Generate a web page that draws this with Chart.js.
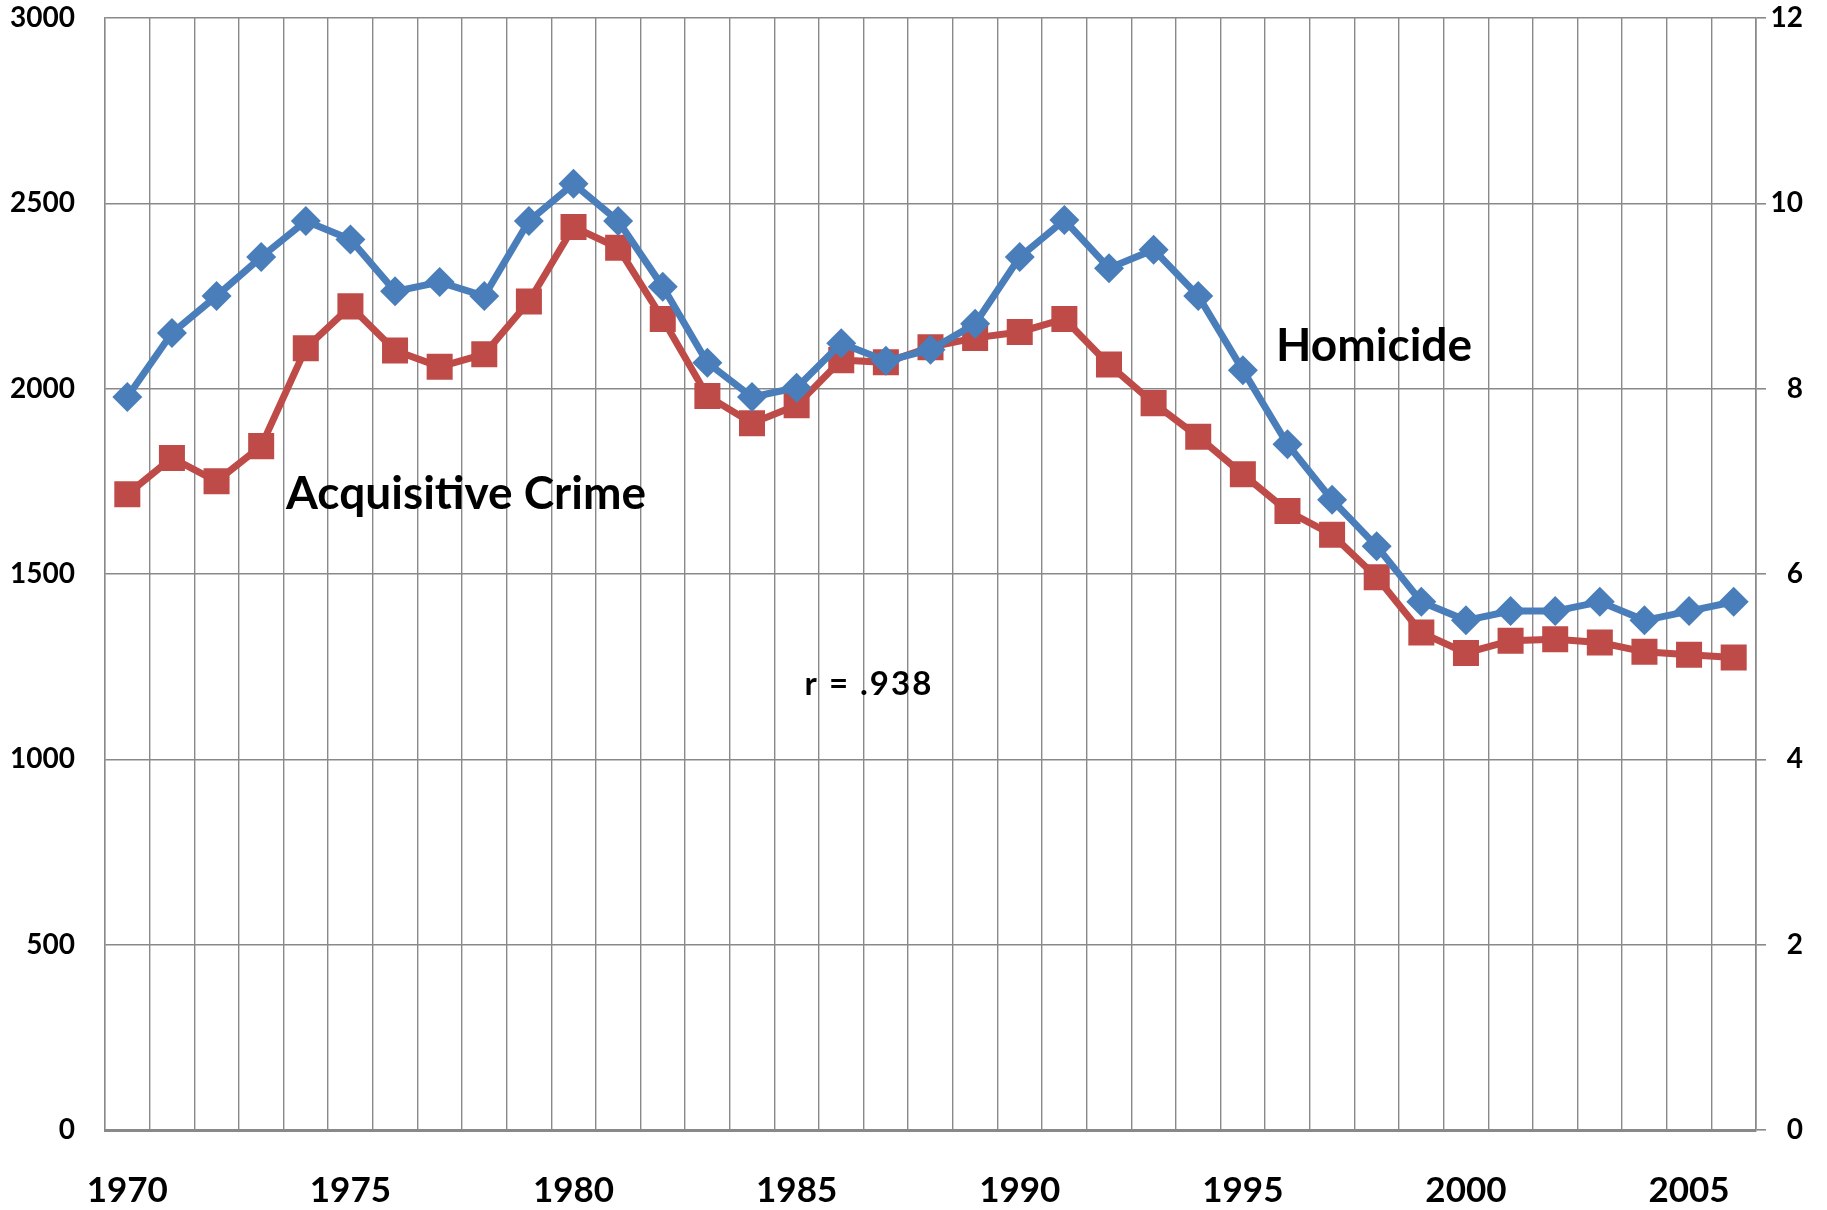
<!DOCTYPE html>
<html><head><meta charset="utf-8">
<script src="https://cdn.jsdelivr.net/npm/chart.js@4.4.1/dist/chart.umd.min.js"></script>
<style>html,body{margin:0;padding:0;background:#fff}canvas{display:block}</style>
</head><body>
<canvas id="c" width="1827" height="1210"></canvas>
<script>
const years = ['1970','1971','1972','1973','1974','1975','1976','1977','1978','1979',
  '1980','1981','1982','1983','1984','1985','1986','1987','1988','1989',
  '1990','1991','1992','1993','1994','1995','1996','1997','1998','1999',
  '2000','2001','2002','2003','2004','2005','2006'];
const shownYears = ['1970','1975','1980','1985','1990','1995','2000','2005'];
const acquisitiveCrime = [1715,1813,1750,1845,2109,2222,2103,2059,2093,2235,
  2436,2380,2188,1980,1907,1955,2077,2071,2112,2137,
  2153,2188,2065,1961,1870,1769,1670,1606,1491,1342,
  1287,1320,1324,1315,1290,1282,1275];
const homicide = [7.91,8.6,9.0,9.42,9.81,9.61,9.05,9.15,9.0,9.81,
  10.21,9.81,9.1,8.28,7.91,8.01,8.49,8.3,8.42,8.7,
  9.42,9.82,9.3,9.5,9.0,8.2,7.4,6.8,6.3,5.7,
  5.5,5.6,5.6,5.7,5.5,5.6,5.7];
const leftRange = [0, 3000, 500];
const rightRange = [0, 12, 2];
const notes = [
  {text: 'Homicide', x: 27.94, y: 2075, size: 46, spacing: 0},
  {text: 'Acquisitive Crime', x: 7.59, y: 1675, size: 46, spacing: 0},
  {text: 'r = .938', x: 16.62, y: 1174, size: 33, spacing: 2}
];

const GRID = '#898989';
const FONT = 'Lato';

const notesPlugin = {
  id: 'notes',
  afterDatasetsDraw(chart) {
    const ctx = chart.ctx;
    const xs = chart.scales.x, ys = chart.scales.yL;
    ctx.save();
    ctx.fillStyle = '#000';
    ctx.textAlign = 'center';
    ctx.textBaseline = 'alphabetic';
    notes.forEach(n => {
      ctx.font = 'bold ' + n.size + 'px ' + FONT;
      ctx.letterSpacing = n.spacing + 'px';
      ctx.fillText(n.text, xs.getPixelForValue(n.x), ys.getPixelForValue(n.y));
    });
    ctx.restore();
  }
};

new Chart(document.getElementById('c'), {
  type: 'line',
  data: {
    labels: years,
    datasets: [
      {
        label: 'Homicide',
        data: homicide,
        yAxisID: 'yR',
        borderColor: '#4A7EBB',
        backgroundColor: '#4A7EBB',
        borderWidth: 7,
        pointStyle: 'rectRot',
        pointRadius: 15,
        pointBorderWidth: 0,
        pointBackgroundColor: '#4A7EBB',
        tension: 0
      },
      {
        label: 'Acquisitive Crime',
        data: acquisitiveCrime,
        yAxisID: 'yL',
        borderColor: '#BE4B48',
        backgroundColor: '#BE4B48',
        borderWidth: 7,
        pointStyle: 'rect',
        pointRadius: 18.4,
        pointBorderWidth: 0,
        pointBackgroundColor: '#BE4B48',
        tension: 0
      }
    ]
  },
  options: {
    responsive: false,
    animation: false,
    devicePixelRatio: 1,
    layout: {autoPadding: false, padding: {top: 18, right: 24, left: 0, bottom: 0}},
    plugins: {legend: {display: false}, tooltip: {enabled: false}},
    scales: {
      x: {
        type: 'category',
        offset: true,
        grid: {offset: true, color: GRID, lineWidth: 1.4, drawTicks: false},
        border: {color: GRID, width: 3},
        ticks: {
          autoSkip: false, maxRotation: 0, padding: 40, color: '#000',
          font: {family: FONT, weight: 'bold', size: 35},
          callback: function(v, i) { return shownYears.includes(years[i]) ? years[i] : ''; }
        },
        afterFit: s => { s.height = 80; s.paddingLeft = 0; s.paddingRight = 0; }
      },
      yL: {
        position: 'left',
        min: leftRange[0], max: leftRange[1],
        grid: {color: GRID, lineWidth: 1.6, drawTicks: false},
        border: {color: GRID, width: 1.4},
        ticks: {stepSize: leftRange[2], padding: 30, color: '#000',
          font: {family: FONT, weight: 'bold', size: 28},
          callback: v => String(v)},
        afterFit: s => { s.width = 105; s.paddingTop = 0; s.paddingBottom = 0; }
      },
      yR: {
        position: 'right',
        min: rightRange[0], max: rightRange[1],
        grid: {drawOnChartArea: false, drawTicks: true, tickLength: 10, color: GRID, lineWidth: 1.6},
        border: {color: GRID, width: 1.6},
        ticks: {stepSize: rightRange[2], crossAlign: 'far', color: '#000',
          font: {family: FONT, weight: 'bold', size: 28},
          callback: v => String(v)},
        afterFit: s => { s.width = 47; s.paddingTop = 0; s.paddingBottom = 0; }
      }
    }
  },
  plugins: [notesPlugin]
});
</script>
</body></html>
